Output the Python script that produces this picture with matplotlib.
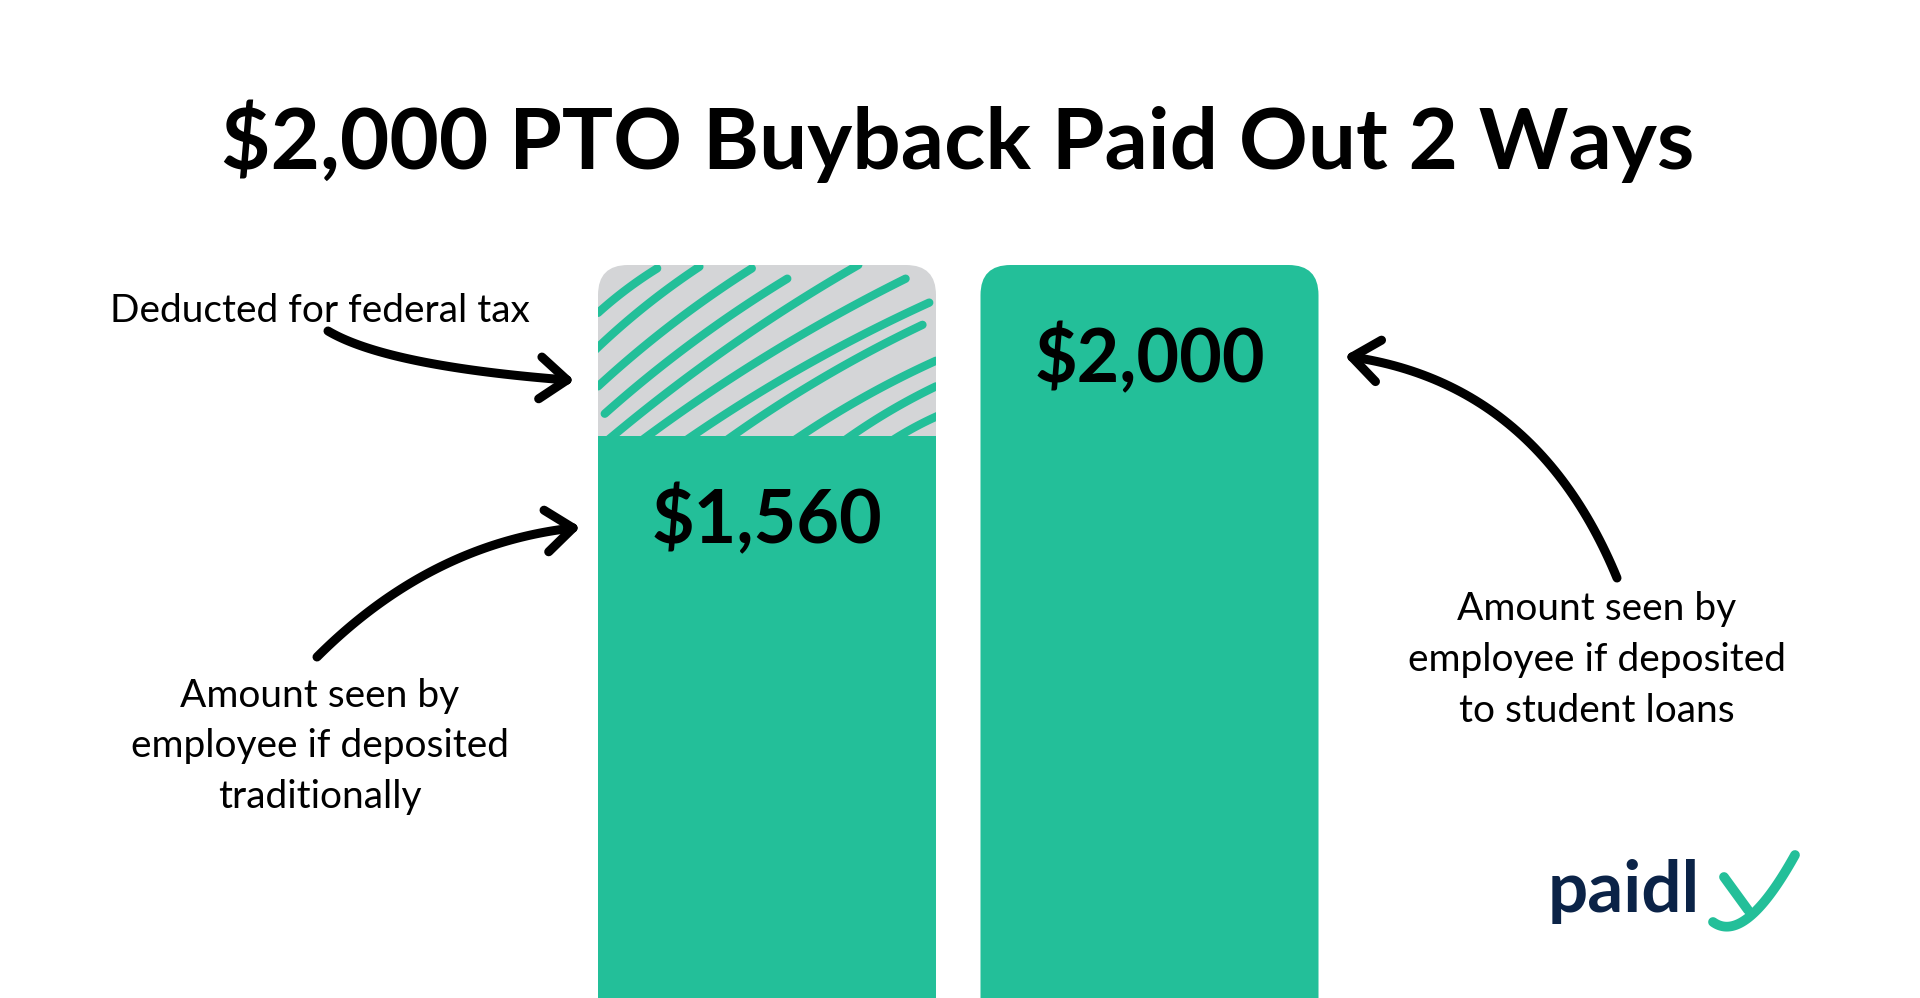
import numpy as np
import matplotlib
matplotlib.use("Agg")
import matplotlib.pyplot as plt
from matplotlib.patches import FancyBboxPatch

# ---------------- data ----------------
categories = ["Traditional deposit", "Student loan deposit"]
gross_amounts = [2000, 2000]
net_amounts = [1560, 2000]
value_labels = ["$1,560", "$2,000"]
title = "$2,000 PTO Buyback Paid Out 2 Ways"
note_tax = "Deducted for federal tax"
note_left = ["Amount seen by", "employee if deposited", "traditionally"]
note_right = ["Amount seen by", "employee if deposited", "to student loans"]

GREEN = "#23BF99"
GRAY = "#D4D5D7"
NAVY = "#0B2347"
FONT = "Lato"

W, H = 1920, 998
fig = plt.figure(figsize=(W / 100, H / 100), dpi=100)
fig.patch.set_facecolor("white")

# main data axes (spans the figure; baseline below the bottom edge)
ax = fig.add_axes([0, 0, 1, 1])
px_per_x = 382.5
px_per_val = 777 / 2000
ax.set_xlim((0 - 767) / px_per_x, (W - 767) / px_per_x)
ax.set_ylim((1042 - H) / px_per_val, 1042 / px_per_val)
ax.axis("off")

# overlay axes in pixel units for annotations
ov = fig.add_axes([0, 0, 1, 1], zorder=5)
ov.set_xlim(0, W)
ov.set_ylim(H, 0)
ov.axis("off")
ov.patch.set_alpha(0)

positions = np.arange(len(categories))
bar_w = 338 / px_per_x
r_px = 30
rx = r_px / px_per_x
ry = r_px / px_per_val


def rounded(rect, color, z):
    x, y = rect.get_x(), rect.get_y()
    w, h = rect.get_width(), rect.get_height()
    rect.remove()
    p = FancyBboxPatch((x, y), w, h,
                       boxstyle=f"round,pad=0,rounding_size={rx}",
                       mutation_aspect=ry / rx, fc=color, ec="none", zorder=z)
    ax.add_patch(p)
    return p

# gross bars (gray where part is deducted, green otherwise)
gross = ax.bar(positions, gross_amounts, width=bar_w)
gross_colors = [GRAY if n < g else GREEN for n, g in zip(net_amounts, gross_amounts)]
gross_patches = [rounded(r, c, 1) for r, c in zip(gross, gross_colors)]

# net bars (square top, only when below gross)
net = ax.bar(positions, net_amounts, width=bar_w, color=GREEN, zorder=3)
for r, n, g in zip(net, net_amounts, gross_amounts):
    if n >= g:
        r.remove()

# hand-drawn hatch strokes on the deducted part (fractions of the gray region)
hatch = [
    (0.00, 0.72, 0.175, 0.98), (-0.01, 0.50, 0.30, 0.99), (0.00, 0.29, 0.455, 0.98),
    (0.02, 0.13, 0.56, 0.92), (0.02, -0.04, 0.77, 1.00), (0.12, -0.04, 0.91, 0.92),
    (0.25, -0.04, 0.98, 0.78), (0.37, -0.04, 0.96, 0.65), (0.57, -0.04, 1.00, 0.44),
    (0.72, -0.04, 1.00, 0.29), (0.86, -0.04, 1.02, 0.13),
]
for i, (n, g) in enumerate(zip(net_amounts, gross_amounts)):
    if n >= g:
        continue
    x0 = positions[i] - bar_w / 2
    wpx, hpx = 338, (g - n) * px_per_val
    for (u0, v0, u1, v1) in hatch:
        dx, dy = (u1 - u0) * wpx, (v1 - v0) * hpx
        L = np.hypot(dx, dy)
        off = 0.045 * L
        px_, py_ = -dy / L * off, dx / L * off
        um, vm = (u0 + u1) / 2 + px_ / wpx, (v0 + v1) / 2 + py_ / hpx
        t = np.linspace(0, 1, 40)
        uu = (1 - t) ** 2 * u0 + 2 * t * (1 - t) * um + t ** 2 * u1
        vv = (1 - t) ** 2 * v0 + 2 * t * (1 - t) * vm + t ** 2 * v1
        ln, = ax.plot(x0 + uu * bar_w, n + vv * (g - n), color=GREEN, lw=6,
                      solid_capstyle="round", zorder=2)
        ln.set_clip_path(gross_patches[i])

# value labels
label_offsets = [-107, -117]
tops = [n if n < g else g for n, g in zip(net_amounts, gross_amounts)]
for i, (lab, v) in enumerate(zip(value_labels, tops)):
    ax.annotate(lab, xy=(positions[i], v), xytext=(0, label_offsets[i]),
                textcoords="offset pixels", ha="center", va="baseline",
                fontsize=53, fontweight="bold", family=FONT, color="black", zorder=6)

# title
ov.text(958, 169, title, ha="center", va="baseline", fontsize=61.5,
        fontweight="bold", family=FONT, color="black")

# notes
NS = 28
ov.text(110, 322, note_tax, ha="left", va="baseline", fontsize=NS, family=FONT)
for k, line in enumerate(note_left):
    ov.text(320, 707 + 50.5 * k, line, ha="center", va="baseline", fontsize=NS, family=FONT)
for k, line in enumerate(note_right):
    ov.text(1597, 620 + 51 * k, line, ha="center", va="baseline", fontsize=NS, family=FONT)


def hand_arrow(p0, c, p2, head=34, ang=38):
    t = np.linspace(0, 1, 60)[:, None]
    p0, c, p2 = map(np.array, (p0, c, p2))
    pts = (1 - t) ** 2 * p0 + 2 * t * (1 - t) * c + t ** 2 * p2
    ov.plot(pts[:, 0], pts[:, 1], color="black", lw=6.5, solid_capstyle="round")
    d = p2 - c
    d = d / np.linalg.norm(d)
    for s in (-1, 1):
        a = np.deg2rad(ang * s)
        rot = np.array([[np.cos(a), -np.sin(a)], [np.sin(a), np.cos(a)]])
        e = p2 - head * rot @ d
        ov.plot([e[0], p2[0]], [e[1], p2[1]], color="black", lw=6.5,
                solid_capstyle="round")

hand_arrow((328, 331), (387, 366), (567, 380))
hand_arrow((317, 657), (430, 544), (573, 528))
hand_arrow((1617, 578), (1537, 384), (1352, 357))

# logo
ov.text(1548, 912, "paidl", ha="left", va="baseline", fontsize=51,
        fontweight="bold", family=FONT, color=NAVY)
t = np.linspace(0, 1, 50)
lx = (1 - t) ** 2 * 1795 + 2 * t * (1 - t) * 1745 + t ** 2 * 1713
ly = (1 - t) ** 2 * 855 + 2 * t * (1 - t) * 945 + t ** 2 * 922
ov.plot(lx, ly, color=GREEN, lw=7, solid_capstyle="round")
ov.plot([1724, 1748], [877, 910], color=GREEN, lw=7, solid_capstyle="round")

fig.savefig("out.png", dpi=100, facecolor="white")
